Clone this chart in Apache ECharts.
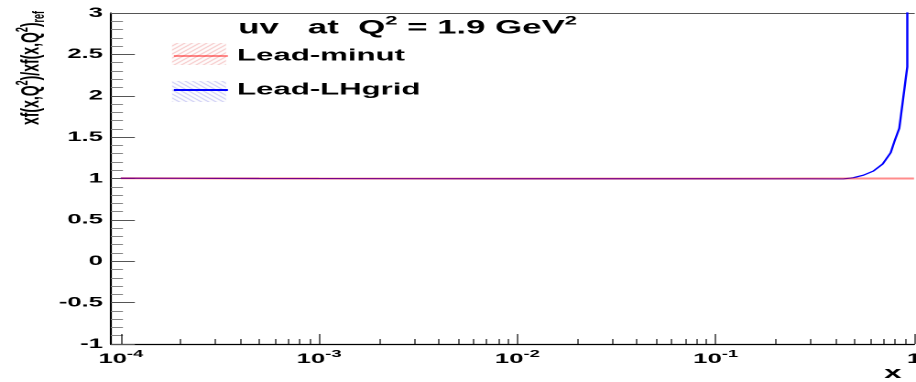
<!DOCTYPE html>
<html>
<head>
<meta charset="utf-8">
<script src="https://cdn.jsdelivr.net/npm/echarts@6/dist/echarts.min.js"></script>
<style>
  html, body { margin: 0; padding: 0; background: #fff; overflow: hidden; }
  /* the original plot is a square-ish canvas stretched sideways, so draw at 500 px and stretch */
  #main { width: 500px; height: 382px; transform: scaleX(1.832); transform-origin: 0 0; }
</style>
</head>
<body>
<div id="main"></div>
<script>
const FONT = '"Liberation Sans", Arial, Helvetica, sans-serif';

// Lead-minut ratio (flat at 1)
const minutX = [1e-4, 1e-3, 1e-2, 1e-1, 0.5, 1];
const minutY = [1.003, 1.0, 0.999, 0.999, 1.0, 1.0];

// Lead-LHgrid ratio
const lhgridX = [1e-4, 2e-4, 5e-4, 1e-3, 3e-3, 1e-2, 3e-2, 0.1, 0.2, 0.3, 0.44, 0.495, 0.556, 0.624, 0.695, 0.763, 0.796, 0.843, 0.925, 0.9255];
const lhgridY = [1.003, 1.002, 1.0, 0.999, 0.998, 0.997, 0.997, 0.997, 0.996, 0.996, 0.995, 1.01, 1.04, 1.09, 1.175, 1.312, 1.445, 1.607, 2.35, 6];

// x axis ticks (log)
const xMin = 8.93e-5;
const xMax = 1;
const xTickValues = [1e-4, 1e-3, 1e-2, 1e-1, 1];
const xTickLabels = ['10^-4', '10^-3', '10^-2', '10^-1', '1'];
const xMinorTicks = [];
for (let d = -4; d < 0; d++) {
  for (let k = 2; k <= 9; k++) xMinorTicks.push(k * Math.pow(10, d));
}

const logMin = Math.log10(xMin);

function hatch(color, up) {
  const c = document.createElement('canvas');
  c.width = 4;
  c.height = 4;
  const g = c.getContext('2d');
  g.strokeStyle = color;
  g.lineWidth = 0.8;
  g.beginPath();
  if (up) {
    g.moveTo(-1, 5); g.lineTo(5, -1);
  } else {
    g.moveTo(-1, -1); g.lineTo(5, 5);
  }
  g.stroke();
  return { type: 'pattern', image: c, repeat: 'repeat' };
}

function supLabel(s) {
  const p = s.split('^');
  return p.length > 1 ? '{b|' + p[0] + '}{s|' + p[1] + '}' : '{b|' + s + '}';
}

const chart = echarts.init(document.getElementById('main'), null, { devicePixelRatio: 2 });

chart.setOption({
  animation: false,
  backgroundColor: '#fff',
  title: {
    text: '{b|uv   at  Q}{s|2}{b| = 1.9 GeV}{s|2}',
    left: 130,
    top: 15,
    padding: 0,
    textStyle: {
      rich: {
        b: { fontSize: 19, fontWeight: 'bold', fontFamily: FONT, color: '#000', lineHeight: 23, verticalAlign: 'bottom' },
        s: { fontSize: 12, fontWeight: 'bold', fontFamily: FONT, color: '#000', lineHeight: 12, verticalAlign: 'top' }
      }
    }
  },
  legend: {
    orient: 'vertical',
    left: 93.9,
    top: 47.5,
    padding: 0,
    itemWidth: 29.5,
    itemHeight: 20,
    itemGap: 17,
    itemStyle: { opacity: 0 },
    data: ['Lead-minut', 'Lead-LHgrid'],
    textStyle: { fontSize: 17, fontWeight: 'bold', color: '#000', fontFamily: FONT }
  },
  grid: { left: 60.6, right: 1.1, top: 13, bottom: 38, outerBoundsMode: 'none' },
  xAxis: [
    // data axis
    { type: 'log', min: xMin, max: xMax, show: false },
    // major ticks + labels
    {
      type: 'value', min: logMin, max: 0, position: 'bottom',
      axisLine: { show: true, onZero: false, lineStyle: { color: '#000', width: 1.2 } },
      axisTick: { show: true, inside: true, length: 10, customValues: xTickValues.map(Math.log10), lineStyle: { color: '#000', width: 0.6 } },
      axisLabel: {
        customValues: xTickValues.map(Math.log10),
        margin: 5,
        formatter: function (v) {
          const i = xTickValues.findIndex(t => Math.abs(Math.log10(t) - v) < 1e-6);
          return supLabel(xTickLabels[i]);
        },
        rich: {
          b: { fontSize: 14, fontWeight: 'bold', fontFamily: FONT, color: '#000', lineHeight: 17, verticalAlign: 'bottom' },
          s: { fontSize: 10, fontWeight: 'bold', fontFamily: FONT, color: '#000', lineHeight: 10, verticalAlign: 'top' }
        }
      },
      splitLine: { show: false }
    },
    // minor ticks
    {
      type: 'value', min: logMin, max: 0, position: 'bottom',
      axisLine: { show: false, onZero: false },
      axisTick: { show: true, inside: true, length: 5, customValues: xMinorTicks.map(Math.log10), lineStyle: { color: '#000', width: 0.6 } },
      axisLabel: { show: false },
      splitLine: { show: false }
    },
    // top frame
    {
      type: 'value', min: 0, max: 1, position: 'top',
      axisLine: { show: true, onZero: false, lineStyle: { color: '#555', width: 1 } },
      axisTick: { show: false },
      axisLabel: { show: false },
      splitLine: { show: false }
    }
  ],
  yAxis: {
    type: 'value',
    min: -1,
    max: 3,
    interval: 0.5,
    splitLine: { show: false },
    axisLine: { show: true, onZero: false, lineStyle: { color: '#000', width: 1.1 } },
    axisTick: { inside: true, length: 13, lineStyle: { color: '#555' } },
    minorTick: { show: true, splitNumber: 5, length: 6.5, lineStyle: { color: '#888' } },
    axisLabel: { margin: 4.4, color: '#000', fontSize: 14, fontWeight: 'bold', fontFamily: FONT }
  },
  graphic: [
    { type: 'rect', shape: { x: 93.9, y: 43, width: 29.5, height: 22 }, style: { fill: hatch('#f0a0a0', true) }, z: 0 },
    { type: 'rect', shape: { x: 93.9, y: 81, width: 29.5, height: 21 }, style: { fill: hatch('#a8a8ec', false) }, z: 0 },
    {
      type: 'text', x: 17, y: 68, rotation: Math.PI / 2,
      style: {
        text: '{b|xf(x,Q}{s|2}{b|)/xf(x,Q}{s|2}{b|)}{r|ref}',
        align: 'center', verticalAlign: 'middle',
        textAlign: 'center', textVerticalAlign: 'middle',
        rich: {
          b: { fontSize: 14, fontWeight: 'bold', fontFamily: FONT, fill: '#000', lineHeight: 18, verticalAlign: 'middle' },
          s: { fontSize: 9, fontWeight: 'bold', fontFamily: FONT, fill: '#000', lineHeight: 9, verticalAlign: 'top' },
          r: { fontSize: 9, fontWeight: 'bold', fontFamily: FONT, fill: '#000', lineHeight: 9, verticalAlign: 'bottom' }
        }
      }
    },
    {
      type: 'text', x: 487.4, y: 373.5,
      style: { text: 'x', font: 'bold 17px ' + FONT, fill: '#000', align: 'center', verticalAlign: 'middle', textAlign: 'center', textVerticalAlign: 'middle' }
    }
  ],
  series: [
    {
      name: 'Lead-LHgrid',
      type: 'line',
      xAxisIndex: 0,
      symbol: 'none',
      z: 2,
      color: '#0000ff',
      lineStyle: { color: '#0000ff', width: 1.2 },
      data: lhgridX.map((x, i) => [x, lhgridY[i]])
    },
    {
      name: 'Lead-minut',
      type: 'line',
      xAxisIndex: 0,
      symbol: 'none',
      z: 3,
      color: 'rgba(255,0,0,0.45)',
      lineStyle: { color: 'rgba(255,0,0,0.45)', width: 2 },
      data: minutX.map((x, i) => [x, minutY[i]])
    }
  ]
});
</script>
</body>
</html>
